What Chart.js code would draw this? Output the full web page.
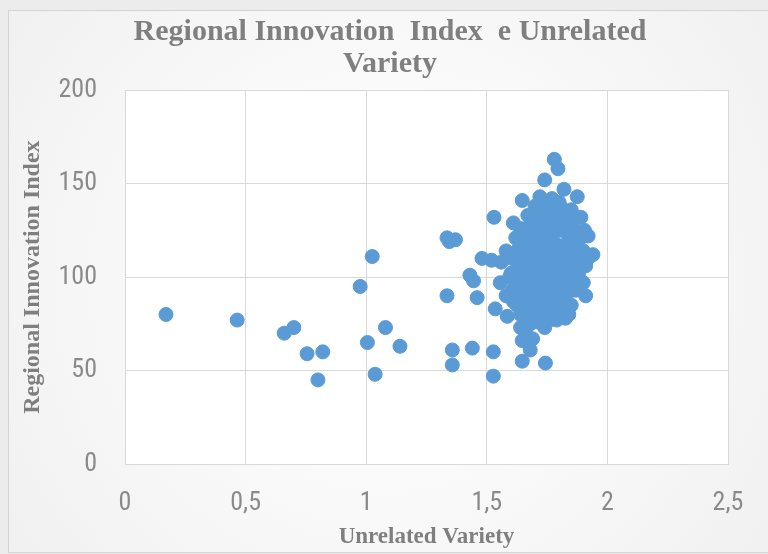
<!DOCTYPE html>
<html>
<head>
<meta charset="utf-8">
<script src="https://cdn.jsdelivr.net/npm/chart.js@4.4.1/dist/chart.umd.min.js"></script>
<style>
html,body{margin:0;padding:0;background:#ffffff;}
#wrap{width:768px;height:554px;position:relative;}
canvas{display:block;}
</style>
</head>
<body>
<div id="wrap"><canvas id="c" width="768" height="554"></canvas></div>
<script>
// ---- Data ----
const unrelatedVariety = [
  0.17, 0.465, 0.66, 0.70, 0.755, 0.82, 0.80, 0.975, 1.025, 1.005, 1.037, 1.08, 1.14,
  1.335, 1.345, 1.37, 1.335, 1.357, 1.357, 1.43, 1.445, 1.46, 1.44, 1.48, 1.52, 1.53, 1.535, 1.527, 1.527,
  1.78, 1.795, 1.74, 1.82, 1.875, 1.647, 1.72, 1.77, 1.72, 1.85, 1.61, 1.89, 1.94, 1.92, 1.91, 1.90,
  1.826, 1.805, 1.585, 1.556, 1.64, 1.67, 1.64, 1.74, 1.647, 1.68, 1.647, 1.743, 1.56, 1.58, 1.60, 1.58,
  1.62, 1.63, 1.62, 1.61, 1.64, 1.65, 1.66, 1.65, 1.66, 1.67, 1.68, 1.69, 1.68, 1.69, 1.70,
  1.70, 1.71, 1.72, 1.71, 1.72, 1.73, 1.73, 1.74, 1.75, 1.74, 1.75, 1.76, 1.76, 1.77, 1.78,
  1.77, 1.78, 1.79, 1.79, 1.80, 1.81, 1.80, 1.81, 1.82, 1.83, 1.84, 1.83, 1.85, 1.84, 1.86,
  1.87, 1.86, 1.88, 1.88, 1.89, 1.90, 1.91, 1.87, 1.85, 1.63, 1.67, 1.70, 1.75, 1.80, 1.76,
  1.71, 1.66, 1.69, 1.78, 1.82, 1.73, 1.76, 1.64, 1.83, 1.92,
  1.605, 1.625, 1.645, 1.655, 1.635, 1.655, 1.665, 1.675, 1.685, 1.675, 1.695, 1.705, 1.715,
  1.715, 1.725, 1.735, 1.745, 1.745, 1.755, 1.765, 1.765, 1.775, 1.785, 1.795, 1.795, 1.805,
  1.815, 1.815, 1.825, 1.835, 1.845, 1.855, 1.865, 1.875, 1.895, 1.905, 1.875, 1.73, 1.69,
  1.605, 1.595, 1.625, 1.77, 1.81, 1.86, 1.725, 1.68, 1.79, 1.70, 1.84
];
const regionalInnovationIndex = [
  80, 77, 70, 73, 59, 60, 45, 95, 111, 65, 48, 73, 63,
  121, 119, 120, 90, 61, 53, 101, 98, 89, 62, 110, 109, 132, 83, 60, 47,
  163, 158, 152, 147, 143, 141, 143, 142, 137, 136, 129, 132, 112, 122, 90, 97,
  78, 83, 79, 97, 80, 79, 73, 73, 66, 61, 55, 54, 108, 114, 102, 90,
  121, 110, 95, 87, 126, 115, 104, 92, 85, 133, 122, 112, 99, 90, 84,
  128, 117, 107, 96, 88, 80, 124, 133, 114, 103, 93, 86, 129, 119, 109,
  99, 91, 84, 136, 125, 115, 104, 95, 88, 131, 121, 110, 101, 92, 126,
  117, 107, 111, 102, 121, 114, 106, 93, 85, 101, 118, 138, 140, 140, 77,
  76, 70, 67, 81, 100, 98, 122, 108, 126, 110,
  110, 104, 97, 88, 116, 122, 109, 96, 86, 127, 104, 92, 122,
  111, 100, 91, 118, 108, 98, 89, 113, 126, 103, 96, 117, 110,
  90, 130, 106, 97, 115, 96, 111, 121, 106, 125, 100, 129, 132,
  93, 100, 85, 134, 137, 131, 83, 75, 77, 80, 80
];
const xTickValues = [0, 0.5, 1, 1.5, 2, 2.5];
const yTickValues = [0, 50, 100, 150, 200];
const chartTitleLines = ['Regional Innovation  Index  e Unrelated', 'Variety'];
const xAxisTitle = 'Unrelated Variety';
const yAxisTitle = 'Regional Innovation Index';

const points = unrelatedVariety.map((x, i) => ({x: x, y: regionalInnovationIndex[i]}));

const tickFont = {family: "'Liberation Sans Narrow', 'Roboto Condensed', 'Liberation Sans', sans-serif", size: 26, weight: 'normal'};
const serifBold = "'Liberation Serif', 'Times New Roman', serif";

const backgroundPlugin = {
  id: 'bgFrame',
  beforeDraw(chart) {
    const ctx = chart.ctx;
    ctx.save();
    ctx.fillStyle = '#ececec';
    ctx.fillRect(0, 0, chart.width, chart.height);
    const g = ctx.createRadialGradient(390, 280, 60, 390, 280, 540);
    g.addColorStop(0, '#ffffff');
    g.addColorStop(1, '#eeeeee');
    ctx.fillStyle = g;
    ctx.fillRect(8, 10, 760, 543);
    ctx.strokeStyle = '#d3d3d3';
    ctx.lineWidth = 1;
    ctx.strokeRect(8.5, 10.5, 762, 542);
    const a = chart.chartArea;
    ctx.fillStyle = '#ffffff';
    ctx.fillRect(a.left, a.top, a.right - a.left, a.bottom - a.top);
    ctx.restore();
  },
  afterLayout(chart) {
    if (chart.titleBlock) {
      chart.titleBlock.left = 52;
      chart.titleBlock.right = 728;
    }
  }
};

const commaFormat = v => String(v).replace('.', ',');

new Chart(document.getElementById('c'), {
  type: 'scatter',
  data: {
    datasets: [{
      label: 'RII',
      data: points,
      pointRadius: 7,
      pointHoverRadius: 7,
      backgroundColor: '#5b9bd5',
      borderColor: '#5b9bd5',
      borderWidth: 1
    }]
  },
  options: {
    responsive: false,
    animation: false,
    devicePixelRatio: 1,
    layout: {padding: {left: 8, right: 40, top: 10, bottom: 0}},
    plugins: {
      legend: {display: false},
      tooltip: {enabled: false},
      title: {
        display: true,
        text: chartTitleLines,
        color: '#7f7f7f',
        font: {family: serifBold, size: 30, weight: 'bold', lineHeight: 1.07},
        padding: {top: 6, bottom: 10}
      }
    },
    scales: {
      x: {
        type: 'linear',
        min: 0,
        max: 2.5,
        afterBuildTicks: s => { s.ticks = xTickValues.map(v => ({value: v})); },
        afterFit: s => { s.height = 90; },
        ticks: {
          color: '#8a8a8a',
          font: tickFont,
          padding: 24,
          callback: commaFormat
        },
        grid: {color: '#d9d9d9', lineWidth: 1, drawTicks: false},
        border: {color: '#d9d9d9'},
        title: {
          display: true,
          text: xAxisTitle,
          color: '#7f7f7f',
          font: {family: serifBold, size: 23, weight: 'bold', lineHeight: 1.2},
          padding: {top: 0, bottom: 3}
        }
      },
      y: {
        type: 'linear',
        min: 0,
        max: 200,
        afterBuildTicks: s => { s.ticks = yTickValues.map(v => ({value: v})); },
        afterFit: s => { s.width = 117; },
        ticks: {
          color: '#8a8a8a',
          font: tickFont,
          padding: 28,
          callback: commaFormat
        },
        grid: {color: '#d9d9d9', lineWidth: 1, drawTicks: false},
        border: {color: '#d9d9d9'},
        title: {
          display: true,
          text: yAxisTitle,
          color: '#7f7f7f',
          font: {family: serifBold, size: 24, weight: 'bold', lineHeight: 1.2},
          padding: {top: 10, bottom: 0}
        }
      }
    }
  },
  plugins: [backgroundPlugin]
});
</script>
</body>
</html>
